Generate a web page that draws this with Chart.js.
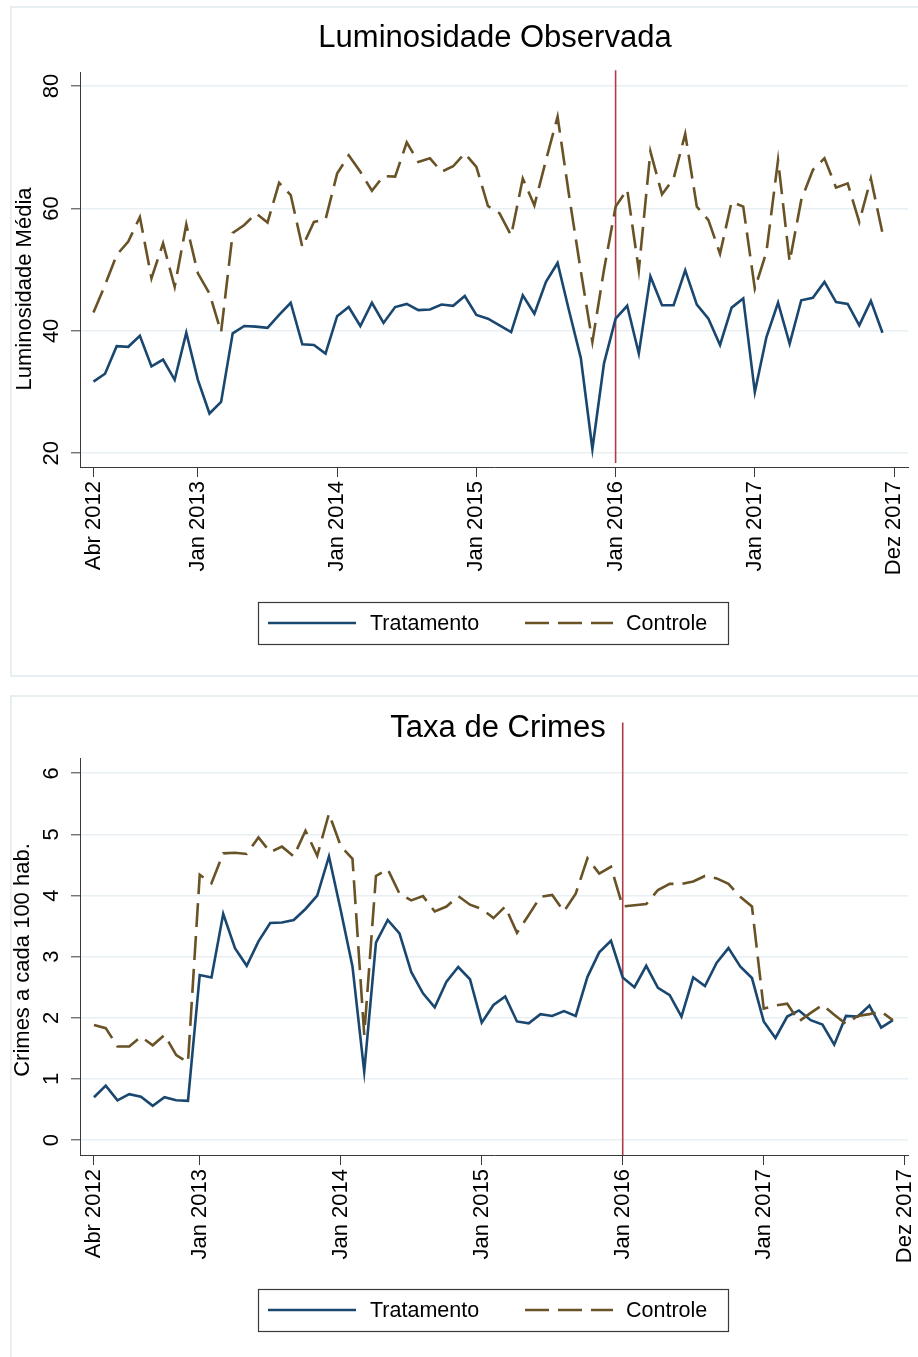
<!DOCTYPE html>
<html>
<head>
<meta charset="utf-8">
<script src="https://cdn.jsdelivr.net/npm/chart.js@4.4.1/dist/chart.umd.min.js"></script>
<style>
body { margin: 0; background: #fff; width: 918px; height: 1357px; position: relative; overflow: hidden; }
.panel { position: absolute; border: 2px solid #e7eff3; box-sizing: border-box; }
canvas { position: absolute; left: 0; }
</style>
</head>
<body>
<div class="panel" style="left:10px;top:6px;width:940px;height:671px"></div>
<div class="panel" style="left:10px;top:695px;width:940px;height:700px"></div>
<canvas id="luz" width="918" height="680" style="top:0"></canvas>
<canvas id="crime" width="918" height="677" style="top:680px"></canvas>
<script>
// months Abr 2012 .. Dez 2017 (index 0..68)
var mesesNomes = ['Jan','Fev','Mar','Abr','Mai','Jun','Jul','Ago','Set','Out','Nov','Dez'];
var meses = [];
for (var k = 0; k < 69; k++) {
	meses.push(mesesNomes[(k + 3) % 12] + ' ' + (2012 + Math.floor((k + 3) / 12)));
}

var xTickIdx = [0, 9, 21, 33, 45, 57, 69];
var xTickLabels = ['Abr 2012', 'Jan 2013', 'Jan 2014', 'Jan 2015', 'Jan 2016', 'Jan 2017', 'Dez 2017'];

var luzTicks = [20, 40, 60, 80];
var crimeTicks = [0, 1, 2, 3, 4, 5, 6];

var luzTratamento = [31.7, 33.0, 37.5, 37.4, 39.2, 34.2, 35.3, 32.0, 39.7, 32.0,
	26.5, 28.4, 39.6, 40.8, 40.7, 40.5, 42.6, 44.6, 37.8, 37.7,
	36.3, 42.4, 43.9, 40.8, 44.6, 41.3, 43.9, 44.4, 43.4, 43.5,
	44.3, 44.1, 45.7, 42.6, 42.0, 40.9, 39.8, 45.8, 42.8, 48.0,
	51.1, 43.2, 35.6, 20.7, 34.7, 42.0, 44.1, 36.3, 48.9, 44.2,
	44.2, 49.9, 44.3, 42.0, 37.7, 43.8, 45.3, 30.0, 39.0, 44.6,
	37.9, 45.0, 45.4, 48.0, 44.7, 44.4, 40.9, 44.9, 39.7];
var luzControle = [43.0, 47.5, 52.4, 54.6, 58.6, 48.6, 54.3, 47.2, 57.4, 49.4,
	46.1, 39.8, 56.0, 57.3, 59.2, 57.7, 64.2, 62.2, 53.7, 57.8,
	58.2, 65.7, 68.7, 66.0, 62.9, 65.3, 65.2, 70.8, 67.6, 68.2,
	66.0, 66.9, 69.0, 66.8, 60.4, 59.2, 55.6, 64.9, 60.5, 67.9,
	75.0, 62.0, 49.8, 38.2, 50.0, 60.3, 63.1, 49.9, 69.3, 62.3,
	64.9, 72.2, 60.3, 58.1, 52.6, 61.1, 60.3, 46.9, 52.9, 67.9,
	51.3, 61.4, 66.3, 68.2, 63.4, 64.1, 57.8, 64.9, 56.0];

var crimeTratamento = [0.70, 0.89, 0.65, 0.75, 0.71, 0.56, 0.70, 0.65, 0.64, 2.70,
	2.66, 3.70, 3.14, 2.85, 3.25, 3.55, 3.56, 3.60, 3.78, 4.00,
	4.64, 3.76, 2.84, 1.12, 3.23, 3.60, 3.38, 2.75, 2.40, 2.17,
	2.59, 2.83, 2.63, 1.92, 2.21, 2.35, 1.94, 1.91, 2.06, 2.03,
	2.11, 2.03, 2.67, 3.07, 3.26, 2.66, 2.50, 2.85, 2.49, 2.37,
	2.02, 2.66, 2.52, 2.90, 3.14, 2.84, 2.65, 1.94, 1.67, 2.02,
	2.12, 1.96, 1.89, 1.56, 2.03, 2.02, 2.20, 1.84, 1.96];
var crimeControle = [1.88, 1.83, 1.53, 1.53, 1.69, 1.55, 1.72, 1.39, 1.27, 4.34,
	4.20, 4.69, 4.70, 4.68, 4.95, 4.71, 4.80, 4.64, 5.06, 4.65,
	5.34, 4.81, 4.60, 1.72, 4.32, 4.43, 4.03, 3.92, 3.99, 3.74,
	3.82, 3.99, 3.85, 3.78, 3.63, 3.82, 3.39, 3.68, 3.98, 4.01,
	3.74, 4.03, 4.61, 4.36, 4.47, 3.82, 3.84, 3.86, 4.09, 4.19,
	4.19, 4.23, 4.32, 4.28, 4.19, 3.98, 3.82, 2.15, 2.20, 2.23,
	1.94, 2.08, 2.21, 2.05, 1.90, 2.03, 2.06, 2.10, 1.96];

var FONT = '"Liberation Sans", Arial, Helvetica, sans-serif';
var AZUL = '#1a476f';
var MARROM = '#685226';
var VERMELHO = '#b13c48';
var EIXO = '#3a3a3a';
var GRADE = '#e8f0f3';

var toPoints = function(values) {
	return values.map(function(v, i) { return { x: i, y: v }; });
};

var stataDecor = {
	id: 'stataDecor',
	beforeDatasetsDraw: function(chart, args, o) {
		var ctx = chart.ctx;
		var x = chart.scales.x.getPixelForValue(o.vline.x);
		ctx.save();
		ctx.strokeStyle = VERMELHO;
		ctx.lineWidth = 1.6;
		ctx.beginPath();
		ctx.moveTo(x, chart.scales.y.getPixelForValue(o.vline.from));
		ctx.lineTo(x, chart.scales.y.getPixelForValue(o.vline.to));
		ctx.stroke();
		ctx.restore();
	},
	afterDraw: function(chart, args, o) {
		var ctx = chart.ctx;
		var ys = chart.scales.y;
		ctx.save();
		ctx.fillStyle = '#000';

		// title
		ctx.font = '31px ' + FONT;
		ctx.textAlign = 'center';
		ctx.textBaseline = 'alphabetic';
		ctx.fillText(o.title, o.titleX, o.titleY);

		// y tick labels, vertical as in Stata
		ctx.font = '22px ' + FONT;
		ctx.textBaseline = 'middle';
		ys.ticks.forEach(function(t) {
			ctx.save();
			ctx.translate(o.yLabelX, ys.getPixelForValue(t.value));
			ctx.rotate(-Math.PI / 2);
			ctx.fillText(String(t.value), 0, 0);
			ctx.restore();
		});

		// y axis title
		ctx.save();
		ctx.translate(o.yTitleX, o.yTitleY);
		ctx.rotate(-Math.PI / 2);
		ctx.fillText(o.yTitle, 0, 0);
		ctx.restore();

		// legend box
		var L = o.legend;
		var cy = L.top + L.height / 2;
		ctx.strokeStyle = EIXO;
		ctx.lineWidth = 1.2;
		ctx.strokeRect(L.left + 0.5, L.top + 0.5, L.width, L.height);
		var ds = chart.data.datasets;
		var items = [[268, 356, 370], [525, 613, 626]];
		ctx.font = '21.5px ' + FONT;
		ctx.textAlign = 'left';
		ds.forEach(function(d, i) {
			ctx.save();
			ctx.strokeStyle = d.borderColor;
			ctx.lineWidth = d.borderWidth;
			ctx.setLineDash(d.borderDash || []);
			ctx.beginPath();
			ctx.moveTo(items[i][0], cy);
			ctx.lineTo(items[i][1], cy);
			ctx.stroke();
			ctx.restore();
			ctx.fillText(d.label, items[i][2], cy + 1);
		});
		ctx.restore();
	}
};

var createPanel = function(id, spec) {
	var ctx = document.getElementById(id).getContext('2d');
	return new Chart(ctx, {
		type: 'line',
		data: {
			datasets: [{
				label: 'Tratamento',
				data: toPoints(spec.tratamento),
				borderColor: AZUL,
				borderWidth: 2.6,
				pointRadius: 0,
				tension: 0,
				order: 1
			}, {
				label: 'Controle',
				data: toPoints(spec.controle),
				borderColor: MARROM,
				borderWidth: 2.6,
				borderDash: [24, 9],
				pointRadius: 0,
				tension: 0,
				order: 0
			}]
		},
		options: {
			responsive: false,
			animation: false,
			devicePixelRatio: 1,
			layout: { padding: { top: spec.top, right: 10, left: 0, bottom: 0 } },
			plugins: {
				legend: { display: false },
				title: { display: false },
				tooltip: { enabled: false },
				stataDecor: spec.decor
			},
			scales: {
				x: {
					type: 'linear',
					min: spec.xMin,
					max: spec.xMax,
					afterBuildTicks: function(s) { s.ticks = xTickIdx.map(function(v) { return { value: v }; }); },
					afterFit: function(s) {
						s.height = spec.xAxisHeight;
						s.paddingLeft = 0;
						s.paddingRight = 0;
					},
					grid: { drawOnChartArea: false, drawTicks: true, tickLength: 10, tickColor: EIXO, tickWidth: 1 },
					border: { color: EIXO, width: 1 },
					ticks: {
						autoSkip: false,
						minRotation: 90,
						maxRotation: 90,
						padding: 4,
						color: '#000',
						font: { family: FONT, size: 22 },
						callback: function(v, i) { return xTickLabels[i]; }
					}
				},
				y: {
					min: spec.yMin,
					max: spec.yMax,
					afterBuildTicks: function(s) { s.ticks = spec.yTicks.map(function(v) { return { value: v }; }); },
					afterFit: function(s) {
						s.width = 80;
						s.paddingTop = 0;
						s.paddingBottom = 0;
					},
					grid: { color: GRADE, lineWidth: 1.6, tickColor: EIXO, tickLength: 9, tickWidth: 1 },
					border: { color: EIXO, width: 1 },
					ticks: { display: false }
				}
			}
		},
		plugins: [stataDecor]
	});
};

createPanel('luz', {
	tratamento: luzTratamento,
	controle: luzControle,
	yTicks: luzTicks,
	yMin: 17.76, yMax: 82.3,
	xMin: -1.16, xMax: 70.2,
	top: 72, xAxisHeight: 213,
	decor: {
		title: 'Luminosidade Observada', titleX: 495, titleY: 47,
		yTitle: 'Luminosidade Média', yTitleX: 25, yTitleY: 289,
		yLabelX: 52,
		vline: { x: 45, from: 18.4, to: 82.6 },
		legend: { left: 258, top: 602, width: 470, height: 42 }
	}
});

createPanel('crime', {
	tratamento: crimeTratamento,
	controle: crimeControle,
	yTicks: crimeTicks,
	yMin: -0.245, yMax: 6.25,
	xMin: -1.19, xMax: 69.28,
	top: 78, xAxisHeight: 202,
	decor: {
		title: 'Taxa de Crimes', titleX: 498, titleY: 57,
		yTitle: 'Crimes a cada 100 hab.', yTitleX: 23, yTitleY: 280,
		yLabelX: 52,
		vline: { x: 45, from: -0.245, to: 6.83 },
		legend: { left: 258, top: 609, width: 470, height: 42 }
	}
});
</script>
</body>
</html>
